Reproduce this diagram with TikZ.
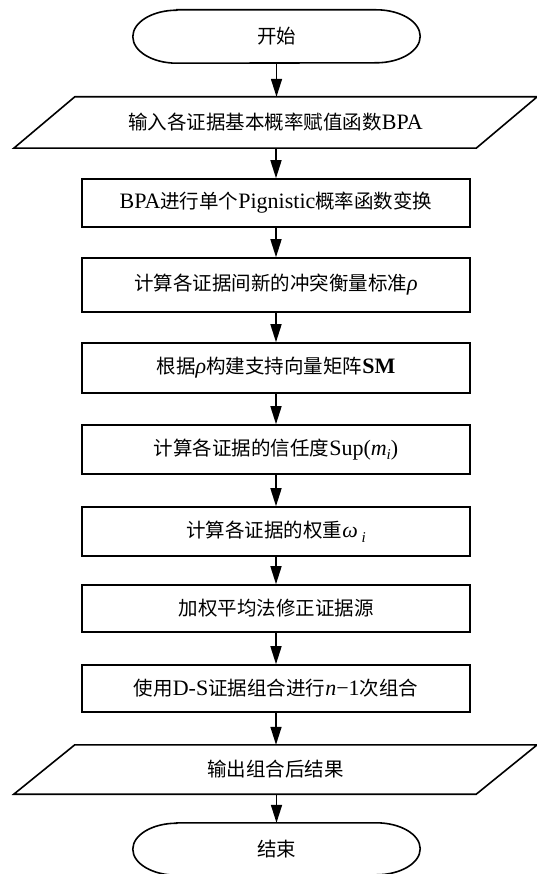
\documentclass[tikz,border=0pt]{standalone}
\usepackage{fontspec}
\setmainfont{Liberation Serif}
\newfontfamily\cjk{Noto Sans CJK SC}
\usetikzlibrary{arrows.meta}
\newcommand\zh[1]{{\cjk\fontsize{19.5}{22}\selectfont #1}}
\newcommand\lowsub[1]{\raisebox{-0.45ex}{\fontsize{15}{16}\selectfont\textit{#1}}}
\begin{document}
\begin{tikzpicture}[x=1pt,y=-1pt,
  every node/.style={font=\fontsize{22}{24}\selectfont},
  procbox/.style={draw,line width=1.6pt,minimum width=388pt,inner sep=0pt},
  ghost/.style={inner sep=0pt},
  arr/.style={line width=1.6pt,-{Triangle[length=18pt,width=11pt]}},
  outline/.style={line width=1.6pt}]
\useasboundingbox (0,0) rectangle (536,874);

% terminals
\node[ghost,minimum width=199pt,minimum height=53pt] (s) at (276.5,36.5) {\zh{开始}};
\draw[outline] (s.north west) -- (s.north east)
  arc[start angle=90,end angle=-90,x radius=44pt,y radius=26.5pt]
  -- (s.south west)
  arc[start angle=270,end angle=90,x radius=44pt,y radius=26.5pt] -- cycle;

\node[ghost,minimum width=199pt,minimum height=52pt] (e) at (276.5,849) {\zh{结束}};
\draw[outline] (e.north west) -- (e.north east)
  arc[start angle=90,end angle=-90,x radius=44pt,y radius=26pt]
  -- (e.south west)
  arc[start angle=270,end angle=90,x radius=44pt,y radius=26pt] -- cycle;

% input / output
\node[ghost,minimum width=462pt,minimum height=51pt] (inp) at (275.5,122.5) {\zh{输入各证据基本概率赋值函数}BPA};
\draw[outline] ([xshift=30.5pt]inp.north west) -- ([xshift=30.5pt]inp.north east)
  -- ([xshift=-30.5pt]inp.south east) -- ([xshift=-30.5pt]inp.south west) -- cycle;

\node[ghost,minimum width=462pt,minimum height=49pt] (out) at (275.5,769.5) {\zh{输出组合后结果}};
\draw[outline] ([xshift=30.5pt]out.north west) -- ([xshift=30.5pt]out.north east)
  -- ([xshift=-30.5pt]out.south east) -- ([xshift=-30.5pt]out.south west) -- cycle;

% process boxes
\node[procbox,minimum height=48pt] (b1) at (276,203) {BPA\zh{进行单个}Pignistic\zh{概率函数变换}};
\node[procbox,minimum height=54pt] (b2) at (276,285) {\zh{计算各证据间新的冲突衡量标准}\textit{ρ}};
\node[procbox,minimum height=50pt] (b3) at (276,368) {\zh{根据}\textit{ρ}\zh{构建支持向量矩阵}\textbf{SM}};
\node[procbox,minimum height=49pt] (b4) at (276,449.5) {\zh{计算各证据的信任度}Sup(\textit{m}\lowsub{i})};
\node[procbox,minimum height=49pt] (b5) at (276,531.5) {\zh{计算各证据的权重}\textit{ω}\,\lowsub{i}};
\node[procbox,minimum height=47pt] (b6) at (276,608.5) {\zh{加权平均法修正证据源}};
\node[procbox,minimum height=47pt] (b7) at (276,688.5) {\zh{使用}D-S\zh{证据组合进行}\textit{n}−1\zh{次组合}};

% connectors
\draw[arr] (s.south) -- (s.south |- inp.north);
\draw[arr] (b1.north |- inp.south) -- (b1.north);
\draw[arr] (b1.south) -- (b2.north);
\draw[arr] (b2.south) -- (b3.north);
\draw[arr] (b3.south) -- (b4.north);
\draw[arr] (b4.south) -- (b5.north);
\draw[arr] (b5.south) -- (b6.north);
\draw[arr] (b6.south) -- (b7.north);
\draw[arr] (b7.south) -- (b7.south |- out.north);
\draw[arr] (e.north |- out.south) -- (e.north);
\end{tikzpicture}
\end{document}
